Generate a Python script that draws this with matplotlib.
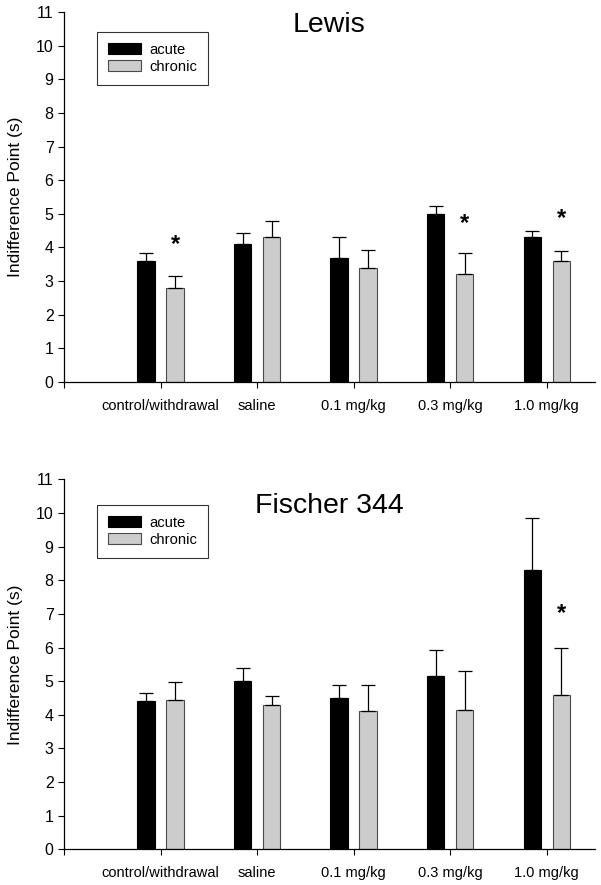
import numpy as np
import matplotlib
matplotlib.use("Agg")
import matplotlib.pyplot as plt

plt.rcParams["font.family"] = ["Liberation Sans", "DejaVu Sans"]

groups = ["control/withdrawal", "saline", "0.1 mg/kg", "0.3 mg/kg", "1.0 mg/kg"]
series = ["acute", "chronic"]

lewis_acute = [3.6, 4.1, 3.7, 5.0, 4.3]
lewis_acute_err = [0.22, 0.33, 0.62, 0.24, 0.2]
lewis_chronic = [2.8, 4.3, 3.4, 3.2, 3.6]
lewis_chronic_err = [0.36, 0.5, 0.52, 0.62, 0.29]
lewis_stars = [(0, 4.1), (3, 4.7), (4, 4.85)]

f344_acute = [4.4, 5.0, 4.5, 5.15, 8.3]
f344_acute_err = [0.25, 0.38, 0.4, 0.77, 1.55]
f344_chronic = [4.45, 4.3, 4.1, 4.15, 4.6]
f344_chronic_err = [0.54, 0.27, 0.79, 1.15, 1.38]
f344_stars = [(4, 7.0)]

panels = [
    ("Lewis", 10.4, lewis_acute, lewis_acute_err, lewis_chronic, lewis_chronic_err,
     lewis_stars, [0.1065, 0.5684, 0.8835, 0.418], 0.947),
    ("Fischer 344", 10.0, f344_acute, f344_acute_err, f344_chronic, f344_chronic_err,
     f344_stars, [0.1065, 0.0403, 0.8835, 0.418], 0.932),
]

fig = plt.figure(figsize=(6.01, 8.85), dpi=100)
x = np.arange(len(groups))
w = 0.18
off = 0.15

for title, ty, ac, ac_e, ch, ch_e, stars, rect, leg_y in panels:
    ax = fig.add_axes(rect)
    ax.bar(x - off, ac, w, color="black", edgecolor="black", lw=0.8, label=series[0],
           yerr=[np.zeros(5), ac_e], capsize=5,
           error_kw=dict(ecolor="black", elinewidth=0.9, capthick=0.9))
    ax.bar(x + off, ch, w, color="#cccccc", edgecolor="#4a4a4a", lw=0.8, label=series[1],
           yerr=[np.zeros(5), ch_e], capsize=5,
           error_kw=dict(ecolor="black", elinewidth=0.9, capthick=0.9))
    for gi, sy in stars:
        ax.text(gi + off, sy, "*", ha="center", va="center", fontsize=17,
                fontweight="bold")
    ax.text(1.75, ty, title, ha="center", va="baseline", fontsize=20.5)

    ax.set_xlim(-1.0, 4.5)
    ax.set_ylim(0, 11)
    ax.set_yticks(range(0, 12))
    ax.set_xticks([-1] + list(x))
    ax.set_xticklabels([""] + groups, fontsize=10.5)
    ax.tick_params(axis="y", labelsize=11.5, direction="out", length=4, width=0.8)
    ax.tick_params(axis="x", direction="out", length=4, width=0.8, pad=8)
    for s in ["top", "right"]:
        ax.spines[s].set_visible(False)
    for s in ["left", "bottom"]:
        ax.spines[s].set_linewidth(0.9)
    ax.set_ylabel("Indifference Point (s)", fontsize=12.5, labelpad=9)

    leg = ax.legend(loc="upper left", bbox_to_anchor=(0.0616, leg_y),
                    borderaxespad=0, fontsize=10.6, frameon=True, fancybox=False,
                    handlelength=2.25, handleheight=0.8, handletextpad=0.55,
                    labelspacing=0.2, borderpad=0.75)
    leg.get_frame().set_edgecolor("black")
    leg.get_frame().set_linewidth(0.8)

fig.savefig("out.png", dpi=100)
